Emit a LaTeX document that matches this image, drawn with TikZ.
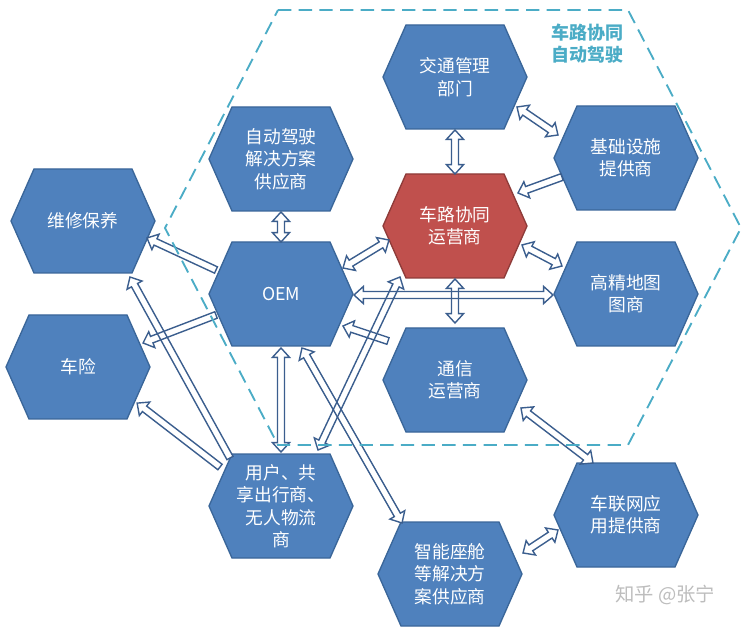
\documentclass[tikz,border=0pt]{standalone}
\usepackage{fontspec}
\setmainfont{Noto Sans CJK SC}
\usetikzlibrary{calc}
\definecolor{hexfill}{HTML}{4F81BD}
\definecolor{hexline}{HTML}{3A6699}
\definecolor{redfill}{HTML}{C0504D}
\definecolor{redline}{HTML}{8E3B39}
\definecolor{arrowc}{HTML}{3B5E8E}
\definecolor{dashc}{HTML}{4BACC6}
\definecolor{wmark}{HTML}{BDBDBD}
\tikzset{
  hexblue/.style={fill=hexfill, draw=hexline, line width=1pt, line join=miter},
  hexred/.style={fill=redfill, draw=redline, line width=1pt, line join=miter},
  hextext/.style={minimum width=108pt, minimum height=78pt, inner sep=0pt,
    text=white, align=center, font=\fontsize{13.3}{16.8}\selectfont},
  arrowfill/.style={fill=white, draw=none},
  arrowline/.style={draw=arrowc, line width=1.05pt, line join=miter},
  dashhex/.style={draw=dashc, line width=1.4pt, dash pattern=on 10pt off 5.5pt},
}
\newcommand\hexagonnode[5]{%
  \filldraw[#1] ({#3-72},{#4}) -- ({#3-49},{#4-52}) -- ({#3+49},{#4-52})
    -- ({#3+72},{#4}) -- ({#3+49},{#4+52}) -- ({#3-49},{#4+52}) -- cycle;
  \node[hextext] (#2) at (#3,#4) {#5};
}
\def\bw{2.6pt}\def\bh{6.4pt}\def\bk{7pt}
\newcommand\barrow[4]{% style, type (1 single, 2 double), from, to
  \path (#3) coordinate (bafrom) (#4) coordinate (bato);
  \pgfpointdiff{\pgfpointanchor{bafrom}{center}}{\pgfpointanchor{bato}{center}}%
  \pgfgetlastxy{\bax}{\bay}%
  \pgfmathsetmacro\baang{atan2(\bay,\bax)}%
  \pgfmathsetmacro\balen{veclen(\bax,\bay)}%
  \pgfmathsetmacro\bab{\balen-7}%
  \begin{scope}[shift={(bafrom)}, rotate=\baang]
    \ifnum#2=2
      \path[#1] (0pt,0pt) -- (\bk,\bh) -- (\bk,\bw) -- (\bab pt,\bw) -- (\bab pt,\bh)
        -- (\balen pt,0pt) -- (\bab pt,-\bh) -- (\bab pt,-\bw) -- (\bk,-\bw) -- (\bk,-\bh) -- cycle;
    \else
      \path[#1] (0pt,\bw) -- (\bab pt,\bw) -- (\bab pt,\bh) -- (\balen pt,0pt)
        -- (\bab pt,-\bh) -- (\bab pt,-\bw) -- (0pt,-\bw) -- cycle;
    \fi
  \end{scope}
}
\newcommand\arrowset[1]{%
  \barrow{#1}{2}{$(jt.center)+(0,53)$}{$(cl.center)+(0,-52)$}
  \barrow{#1}{2}{$(jt.center)+(62,30)$}{$(jc.center)+(-68,-23)$}
  \barrow{#1}{1}{$(jc.center)+(-64,19)$}{$(cl.center)+(63,-33)$}
  \barrow{#1}{2}{$(cl.center)+(67,19)$}{$(gj.center)+(-64,-28)$}
  \barrow{#1}{2}{$(cl.center)+(0,53)$}{$(tx.center)+(0,-57)$}
  \barrow{#1}{2}{$(oem.center)+(73,1)$}{$(gj.center)+(-73,1)$}
  \barrow{#1}{2}{$(oem.center)+(62,-26)$}{$(cl.center)+(-66,14)$}
  \barrow{#1}{2}{$(yh.center)+(37,-56)$}{$(cl.center)+(-55,51)$}
  \barrow{#1}{1}{$(tx.center)+(-67,-39)$}{$(oem.center)+(62,32)$}
  \barrow{#1}{2}{$(oem.center)+(0,54)$}{$(yh.center)+(0,-54)$}
  \barrow{#1}{2}{$(oem.center)+(21,54)$}{$(zn.center)+(-48,-51)$}
  \barrow{#1}{1}{$(oem.center)+(-65,-24)$}{$(wx.center)+(64,17)$}
  \barrow{#1}{1}{$(oem.center)+(-65,21)$}{$(cx.center)+(65,-24)$}
  \barrow{#1}{1}{$(yh.center)+(-51,-48)$}{$(wx.center)+(47,56)$}
  \barrow{#1}{1}{$(yh.center)+(-61,-39)$}{$(cx.center)+(59,36)$}
  \barrow{#1}{2}{$(zd.center)+(0,53)$}{$(oem.center)+(0,-52)$}
  \barrow{#1}{2}{$(tx.center)+(66,28)$}{$(clw.center)+(-33,-52)$}
  \barrow{#1}{2}{$(clw.center)+(-68,15)$}{$(zn.center)+(73,-21)$}
}
\begin{document}
\begin{tikzpicture}[x=0.75pt, y=-0.75pt]
\useasboundingbox (0,0) rectangle (743,627);
\hexagonnode{hexblue}{jt}{455}{77}{交通管理\\部门}
\hexagonnode{hexblue}{jc}{626}{158}{基础设施\\提供商}
\hexagonnode{hexred}{cl}{455}{226}{车路协同\\运营商}
\hexagonnode{hexblue}{gj}{626}{294}{高精地图\\图商}
\hexagonnode{hexblue}{tx}{455}{380}{通信\\运营商}
\hexagonnode{hexblue}{clw}{626}{515}{车联网应\\用提供商}
\hexagonnode{hexblue}{zn}{450}{574}{智能座舱\\等解决方\\案供应商}
\hexagonnode{hexblue}{zd}{281}{159}{自动驾驶\\解决方案\\供应商}
\hexagonnode{hexblue}{oem}{281}{294}{OEM}
\hexagonnode{hexblue}{wx}{83}{221}{维修保养}
\hexagonnode{hexblue}{cx}{78}{367}{车险}
\hexagonnode{hexblue}{yh}{281}{506}{用户、共\\享出行商、\\无人物流\\商}
\arrowset{arrowfill}
\arrowset{arrowline}
\draw[dashhex] (278,10) -- (628,10) -- (741,228) -- (628,445) -- (278,445) -- (165,228) -- cycle;
\node[text=dashc, align=center, font=\fontsize{13.5}{16.5}\selectfont\bfseries] (title) at (587,44) {车路协同\\自动驾驶};
\node[text=wmark, font=\fontsize{14.5}{16}\selectfont] (wm) at (665,595) {知乎 @张宁};
\end{tikzpicture}
\end{document}
